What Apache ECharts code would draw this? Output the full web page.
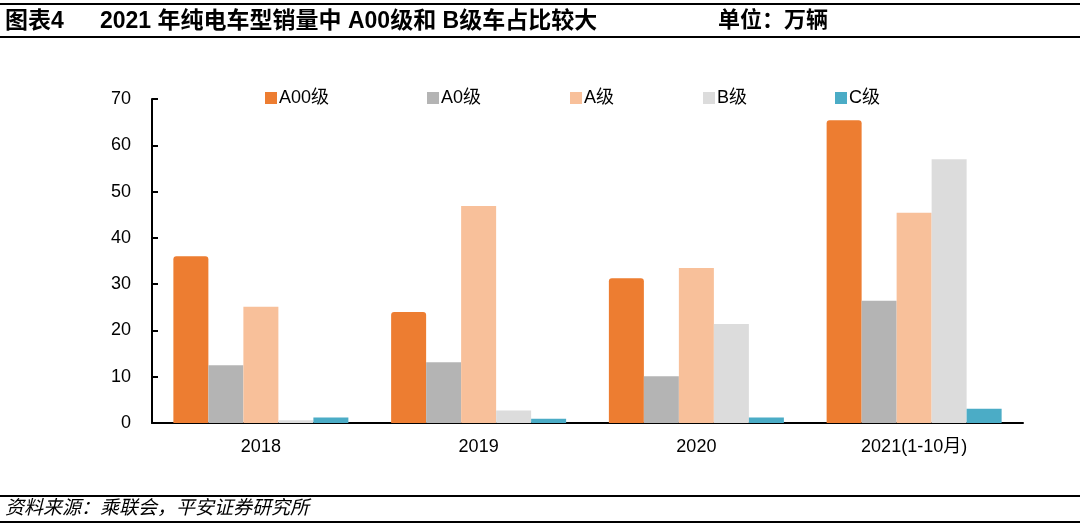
<!DOCTYPE html>
<html>
<head>
<meta charset="utf-8">
<script src="https://cdn.jsdelivr.net/npm/echarts@6/dist/echarts.min.js"></script>
<style>
html,body{margin:0;padding:0;background:#fff;}
#main{width:1080px;height:529px;}
</style>
</head>
<body>
<div id="main"></div>
<script>
var categories = ['2018', '2019', '2020', '2021(1-10月)'];
var seriesNames = ['A00级', 'A0级', 'A级', 'B级', 'C级'];
var a00 = [36.0, 24.0, 31.3, 65.4];
var a0 = [12.5, 13.1, 10.1, 26.4];
var aLevel = [25.1, 46.9, 33.5, 45.4];
var bLevel = [0.6, 2.7, 21.4, 57.0];
var cLevel = [1.2, 0.9, 1.2, 3.1];
var yTicks = [0, 10, 20, 30, 40, 50, 60, 70];

var colors = ['#ED7D31', '#B4B4B4', '#F8C09A', '#DCDCDC', '#4BACC6'];
var values = [a00, a0, aLevel, bLevel, cLevel];
var legendLeft = [265, 427, 570, 703, 835];
var font = '"Liberation Sans", Arial, "Noto Sans CJK SC", sans-serif';

var chart = echarts.init(document.getElementById('main'), null, {renderer: 'canvas'});

var series = seriesNames.map(function (n, i) {
  return {
    name: n,
    type: 'bar',
    data: values[i],
    barWidth: 35,
    barGap: '0%',
    itemStyle: {
      color: colors[i],
      borderRadius: i === 0 ? [3, 3, 0, 0] : 0
    }
  };
});

var legends = seriesNames.map(function (n, i) {
  return {
    data: [n],
    left: legendLeft[i],
    top: 89,
    itemWidth: 12,
    itemHeight: 12,
    icon: 'rect',
    padding: 0,
    itemGap: 0,
    textStyle: {fontFamily: font, fontSize: 18, color: '#000', padding: [0, 0, 0, -3]}
  };
});

var option = {
  backgroundColor: '#fff',
  animation: false,
  textStyle: {fontFamily: font},
  legend: legends,
  grid: {left: 152, right: 57, top: 99, bottom: 106},
  xAxis: {
    type: 'category',
    data: categories,
    axisLine: {lineStyle: {color: '#000', width: 2}},
    axisTick: {inside: true, length: 8, lineStyle: {color: '#000', width: 2}},
    axisLabel: {fontFamily: font, fontSize: 18, color: '#000', margin: 15}
  },
  yAxis: {
    type: 'value',
    min: yTicks[0],
    max: yTicks[yTicks.length - 1],
    interval: yTicks[1] - yTicks[0],
    axisLine: {show: true, lineStyle: {color: '#000', width: 2}},
    axisTick: {show: true, inside: true, length: 6, lineStyle: {color: '#000', width: 2}},
    axisLabel: {fontFamily: font, fontSize: 18, color: '#000', margin: 21},
    splitLine: {show: false}
  },
  graphic: [
    {type: 'rect', shape: {x: 0, y: 3, width: 1080, height: 2}, style: {fill: '#000'}},
    {type: 'rect', shape: {x: 0, y: 36, width: 1080, height: 2}, style: {fill: '#000'}},
    {type: 'text', left: 5, top: 10, style: {text: '图表4', font: 'bold 23px ' + font, fill: '#000'}},
    {type: 'text', left: 100, top: 10, style: {text: '2021 年纯电车型销量中 A00级和 B级车占比较大', font: 'bold 23px ' + font, fill: '#000'}},
    {type: 'text', left: 718, top: 10, style: {text: '单位：万辆', font: 'bold 22px ' + font, fill: '#000'}},
    {type: 'rect', shape: {x: 0, y: 495, width: 1080, height: 2}, style: {fill: '#000'}},
    {type: 'rect', shape: {x: 0, y: 521, width: 1080, height: 2}, style: {fill: '#000'}},
    {type: 'text', left: 5, top: 499, style: {text: '资料来源：乘联会，平安证券研究所', font: 'italic 19px ' + font, fill: '#000'}}
  ],
  series: series
};
chart.setOption(option);
</script>
</body>
</html>
